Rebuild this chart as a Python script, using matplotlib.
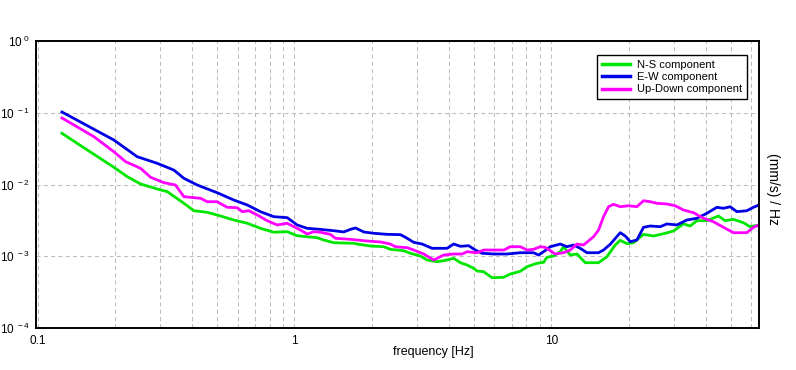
import matplotlib
matplotlib.use("Agg")
import matplotlib.pyplot as plt
from matplotlib.ticker import FixedLocator, FixedFormatter, NullLocator

plt.rcParams['font.family'] = ['Liberation Sans', 'DejaVu Sans']
plt.rcParams['mathtext.fontset'] = 'custom'
plt.rcParams['mathtext.rm'] = 'Liberation Sans'

# N-S component
ns_f = [0.1243, 0.156, 0.198, 0.2234, 0.2517, 0.292, 0.3197, 0.371, 0.4057, 0.457,
        0.515, 0.580, 0.655, 0.737, 0.831, 0.937, 1.024, 1.12, 1.226, 1.3, 1.422,
        1.701, 1.779, 1.976, 2.226, 2.363, 2.663, 2.828, 3.092, 3.282, 3.592, 3.928,
        4.168, 4.425, 4.699, 4.985, 5.139, 5.453, 5.879, 6.52, 6.925, 7.573, 8.04,
        8.797, 9.336, 9.62, 10.21, 10.84, 11.16, 11.86, 12.59, 13.56, 15.28, 16.47,
        17.74, 18.56, 19.71, 20.9, 22.86, 25.0, 27.35, 29.92, 32.72, 34.74, 36.89,
        40.35, 44.77, 47.54, 51.21, 56.0, 59.47, 64.4]
ns_v = [0.0517, 0.0303, 0.01737, 0.01285, 0.01016, 0.00866, 0.00794, 0.00547, 0.00431, 0.0041,
        0.00364, 0.0032, 0.00288, 0.00245, 0.00216, 0.0022, 0.00193, 0.00187, 0.001814, 0.001684, 0.001545,
        0.001515, 0.001467, 0.00139, 0.001358, 0.00125, 0.001195, 0.0011, 0.001008, 0.000886, 0.000839, 0.000886,
        0.000936, 0.000813, 0.000755, 0.000679, 0.000623, 0.000609, 0.000502, 0.000509, 0.000566, 0.000617, 0.000715,
        0.000797, 0.000824, 0.000967, 0.001008, 0.001157, 0.001358, 0.00104, 0.001075, 0.000813, 0.000813, 0.000986,
        0.001435, 0.001668, 0.001496, 0.001545, 0.00202, 0.001915, 0.00206, 0.00225, 0.00282, 0.00264, 0.00313,
        0.00313, 0.00364, 0.00313, 0.00327, 0.00293, 0.00258, 0.00273]

# E-W component
ew_f = [0.1243, 0.198, 0.244, 0.292, 0.339, 0.371, 0.418, 0.500, 0.580, 0.655, 0.737,
        0.831, 0.937, 1.024, 1.12, 1.262, 1.422, 1.555, 1.652, 1.728, 1.861, 2.035,
        2.295, 2.585, 2.703, 2.912, 3.14, 3.434, 3.928, 4.168, 4.425, 4.767, 5.06,
        5.376, 5.965, 6.725, 7.573, 8.533, 8.925, 9.333, 9.91, 10.84, 11.51, 12.21,
        12.97, 13.77, 15.28, 15.98, 16.96, 18.56, 19.41, 20.3, 21.55, 22.86, 24.28,
        26.56, 28.19, 30.84, 33.73, 36.89, 40.35, 44.13, 46.82, 49.72, 52.79, 57.74,
        61.26, 64.4]
ew_v = [0.1024, 0.0417, 0.0244, 0.01974, 0.0159, 0.0122, 0.00984, 0.00768, 0.00608, 0.00518, 0.00418,
        0.00356, 0.00345, 0.00273, 0.00245, 0.00237, 0.00227, 0.00218, 0.00237, 0.00248, 0.00218, 0.00209,
        0.00202, 0.002, 0.00184, 0.001565, 0.00148, 0.00129, 0.00129, 0.00148, 0.001376, 0.001403, 0.001222,
        0.0011, 0.001075, 0.001075, 0.00112, 0.00112, 0.00104, 0.001157, 0.001358, 0.00148, 0.001358, 0.001435,
        0.00129, 0.00112, 0.00112, 0.001222, 0.001467, 0.00213, 0.001915, 0.001595, 0.001684, 0.00253, 0.00264,
        0.00258, 0.00282, 0.00273, 0.0032, 0.00338, 0.00397, 0.00481, 0.00466, 0.0049, 0.00418, 0.00431,
        0.00481, 0.00518]

# Up-Down component
ud_f = [0.1243, 0.1656, 0.198, 0.220, 0.2517, 0.2753, 0.310, 0.344, 0.371, 0.431, 0.457,
        0.500, 0.547, 0.598, 0.626, 0.664, 0.716, 0.783, 0.856, 0.937, 1.055, 1.12,
        1.189, 1.262, 1.38, 1.444, 1.652, 1.919, 2.165, 2.36, 2.472, 2.745, 2.912,
        3.186, 3.485, 3.81, 4.168, 4.495, 4.7, 5.136, 5.47, 6.54, 6.925, 7.573,
        8.04, 8.533, 9.05, 9.47, 10.36, 11.16, 11.86, 12.59, 13.36, 14.61, 15.28,
        15.98, 16.71, 17.48, 18.56, 19.99, 21.55, 22.86, 24.28, 25.78, 28.19, 30.37,
        32.72, 35.79, 39.15, 42.8, 46.82, 51.21, 57.74, 61.26, 64.4]
ud_v = [0.0845, 0.0464, 0.0286, 0.0208, 0.0168, 0.0126, 0.0106, 0.00984, 0.00676, 0.00642, 0.00576,
        0.00576, 0.00481, 0.00475, 0.00418, 0.00431, 0.00376, 0.00313, 0.00273, 0.00288, 0.00232, 0.00204,
        0.0022, 0.00216, 0.00202, 0.00178, 0.00172, 0.00163, 0.00158, 0.00148, 0.001358, 0.001316, 0.001222,
        0.001075, 0.000886, 0.00104, 0.001075, 0.001075, 0.001157, 0.00112, 0.001222, 0.001222, 0.001358, 0.001358,
        0.001222, 0.00125, 0.001358, 0.001332, 0.001075, 0.00112, 0.001222, 0.00148, 0.001435, 0.001873, 0.00232,
        0.00356, 0.0049, 0.0053, 0.0049, 0.00506, 0.0049, 0.00594, 0.00576, 0.00547, 0.00535, 0.00506,
        0.00441, 0.00405, 0.00338, 0.00303, 0.00253, 0.00213, 0.00213, 0.00253, 0.00273]

x_ticks = [0.1, 1, 10]
x_labels = ['0.1', '1', '10']
y_ticks = [1e-4, 1e-3, 1e-2, 1e-1, 1e0]
y_labels = [r'$10^{\ -4}$', r'$10^{\ -3}$', r'$10^{\ -2}$', r'$10^{\ -1}$', r'$10^{\ 0}$']
x_minor = [0.2, 0.3, 0.4, 0.5, 0.6, 0.7, 0.8, 0.9, 2, 3, 4, 5, 6, 7, 8, 9,
           20, 30, 40, 50, 60]

fig = plt.figure(figsize=(7.96, 3.70), dpi=100)
ax = fig.add_axes([36 / 796, 1 - 328 / 370, 723 / 796, 287 / 370])

ax.plot(ns_f, ns_v, color='#00e600', lw=2.0, label='N-S component')
ax.plot(ew_f, ew_v, color='#0000e6', lw=2.0, label='E-W component')
ax.plot(ud_f, ud_v, color='#ff00ff', lw=2.0, label='Up-Down component')

ax.set_xscale('log')
ax.set_yscale('log')
ax.set_xlim(0.0985, 64.4)
ax.set_ylim(1e-4, 1e0)

ax.xaxis.set_major_locator(FixedLocator(x_ticks))
ax.xaxis.set_major_formatter(FixedFormatter(x_labels))
ax.xaxis.set_minor_locator(FixedLocator(x_minor))
ax.xaxis.set_minor_formatter(FixedFormatter([''] * len(x_minor)))
ax.yaxis.set_major_locator(FixedLocator(y_ticks))
ax.yaxis.set_major_formatter(FixedFormatter(y_labels))
ax.yaxis.set_minor_locator(NullLocator())

ax.tick_params(which='both', length=0, labelsize=8.5)
ax.tick_params(axis='x', pad=5)
ax.tick_params(axis='y', pad=4)
ax.grid(True, which='major', color='#bdbdbd', lw=0.75, ls=(0, (4, 3)))
ax.grid(True, which='minor', axis='x', color='#bdbdbd', lw=0.75, ls=(0, (4, 3)))

for s in ax.spines.values():
    s.set_linewidth(1.4)
    s.set_color('black')

leg = ax.legend(loc='upper right', bbox_to_anchor=(0.9834, 0.9512), borderaxespad=0,
                fontsize=8, fancybox=False, framealpha=1, edgecolor='black',
                handlelength=2.5, handletextpad=0.6, labelspacing=0.2, borderpad=0.45)
leg.get_frame().set_linewidth(1.0)
for ln in leg.get_lines():
    ln.set_linewidth(2.5)

fig.text(433 / 796, 1 - 352 / 370, 'frequency [Hz]', fontsize=9, ha='center', va='center')
fig.text(773 / 796, 1 - 189 / 370, '(mm/s) / Hz', fontsize=10, rotation=-90,
         ha='center', va='center')

fig.savefig('out.png', dpi=100)
